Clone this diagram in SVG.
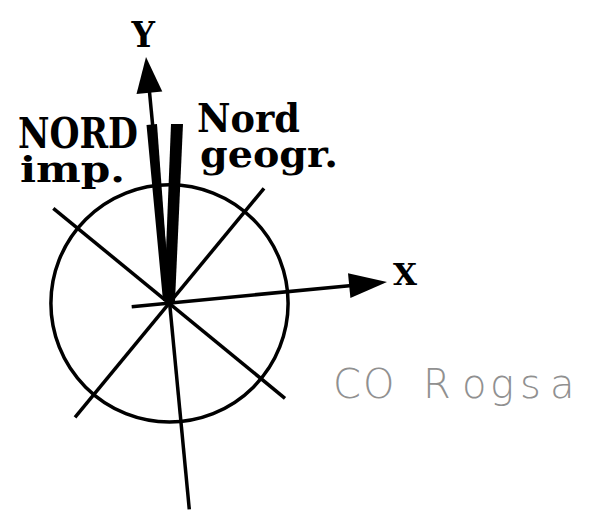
<svg xmlns="http://www.w3.org/2000/svg" width="591" height="515" viewBox="0 0 591 515">
<style>
.ln{stroke:#000;stroke-width:3.5;fill:none;stroke-linecap:butt}
.lbl{font-family:"DejaVu Serif","Liberation Serif",serif;font-weight:bold;fill:#000}
.cad{font-family:"DejaVu Sans","Liberation Sans",sans-serif;font-weight:200;fill:#909090}
</style>
<rect width="591" height="515" fill="#fff"/>
<g id="compass">
<circle class="ln" cx="169.5" cy="303.3" r="118.6"/>
<line class="ln" x1="53.3" y1="208.3" x2="285" y2="398.3"/>
<line class="ln" x1="264" y1="188.3" x2="75" y2="417.3"/>
</g>
<g id="connectors">
<g id="axis-y">
<line class="ln" x1="189.3" y1="509.3" x2="149.3" y2="90"/>
<polygon points="146,57 162.3,91.6 136.5,94" fill="#000"/>
</g>
<g id="axis-x">
<line class="ln" x1="131.7" y1="306.7" x2="352" y2="285.4"/>
<polygon points="387,282 350.4,298.1 348,273.3" fill="#000"/>
</g>
</g>
<g id="needle-nord-imp">
<polygon points="146.5,125 157,124 170,301 163,301" fill="#000"/>
</g>
<g id="needle-nord-geogr">
<polygon points="171,124 183,124 175,301 164,301" fill="#000"/>
</g>
<g id="label-y"><text class="lbl" x="131.5" y="46.5" font-size="36" textLength="23.5" lengthAdjust="spacingAndGlyphs">Y</text></g>
<g id="label-x"><text class="lbl" x="393" y="285" font-size="29" textLength="24" lengthAdjust="spacingAndGlyphs">X</text></g>
<g id="label-nord-imp">
<text class="lbl"><tspan x="18" y="148" font-size="42" textLength="120" lengthAdjust="spacingAndGlyphs">NORD</tspan><tspan x="20" y="182" font-size="35" textLength="105" lengthAdjust="spacingAndGlyphs">imp.</tspan></text>
</g>
<g id="label-nord-geogr">
<text class="lbl"><tspan x="197" y="132" font-size="39" textLength="103" lengthAdjust="spacingAndGlyphs">Nord</tspan><tspan x="200" y="167" font-size="38" textLength="138" lengthAdjust="spacingAndGlyphs">geogr.</tspan></text>
</g>
<g id="label-co-rossa">
<text class="cad" x="333 363 400 423 462 490 520 550" y="398" font-size="40">CO Rogsa</text>
</g>
</svg>
